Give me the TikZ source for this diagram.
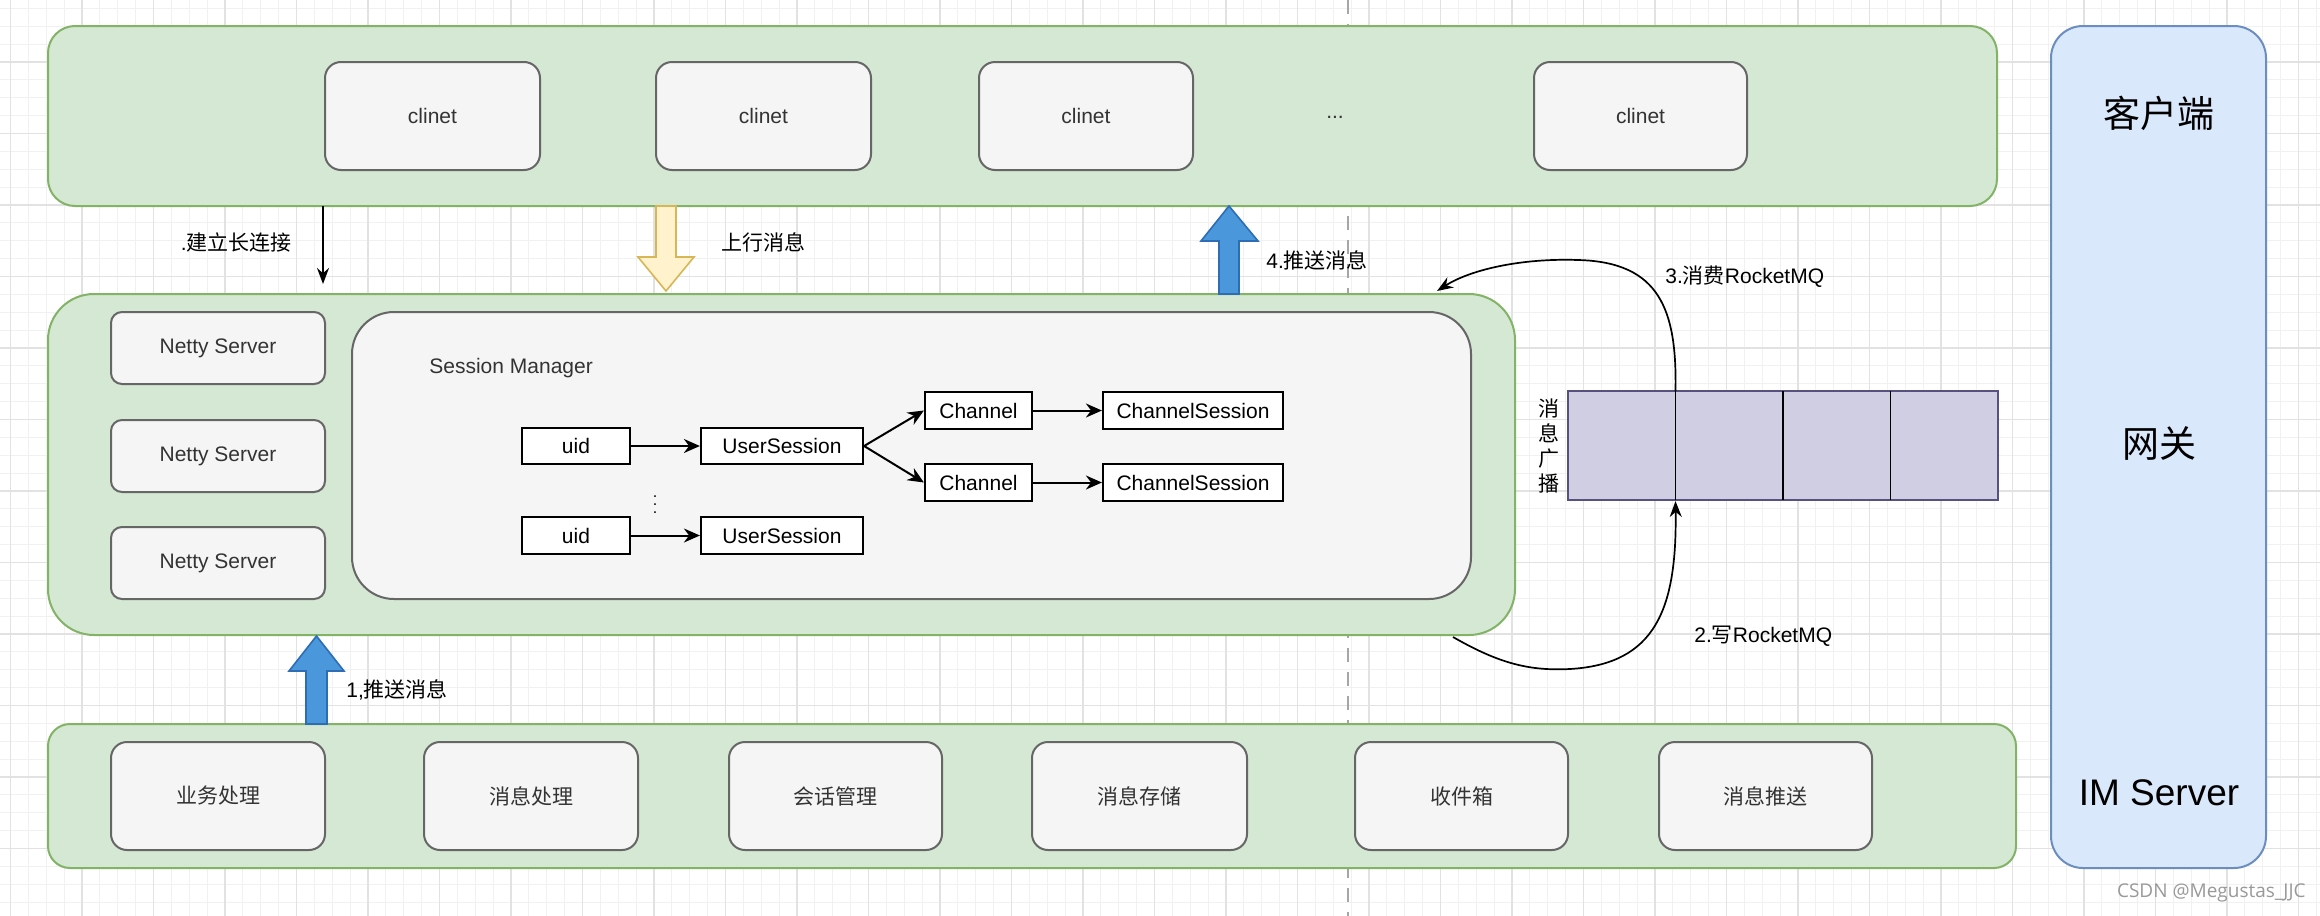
\documentclass[tikz,border=0pt]{standalone}
\usepackage{fontspec}
\setmainfont{Liberation Sans}
\newfontfamily\cjk{Noto Sans CJK SC}
\newfontfamily\wmfont{Open Sans}
\usetikzlibrary{arrows.meta,fit,calc}
\definecolor{gfill}{HTML}{D5E8D4}
\definecolor{gline}{HTML}{82B366}
\definecolor{bfill}{HTML}{DAE8FC}
\definecolor{bline}{HTML}{6C8EBF}
\definecolor{sfill}{HTML}{F5F5F5}
\definecolor{sline}{HTML}{666666}
\definecolor{qfill}{HTML}{D0CEE2}
\definecolor{qline}{HTML}{56517E}
\definecolor{yfill}{HTML}{FFF2CC}
\definecolor{yline}{HTML}{D6B656}
\definecolor{afill}{HTML}{4A97DB}
\definecolor{aline}{HTML}{2E6DB3}
\definecolor{txt}{HTML}{333333}
\definecolor{gminor}{HTML}{F1F1F1}
\definecolor{gmajor}{HTML}{E2E2E2}
\newcommand{\nfs}{\fontsize{10.5}{12.6}\selectfont}
\newcommand{\bfs}{\fontsize{18.5}{22}\selectfont}
\begin{document}
\begin{tikzpicture}[x=0.5pt,y=-0.5pt,
  greenbox/.style={draw=gline,fill=gfill,line width=1pt,inner sep=0pt},
  graybox/.style={draw=sline,fill=sfill,line width=1pt,inner sep=0pt,rounded corners=#1},
  graybox/.default=8pt,
  blkbox/.style={draw=black,fill=white,line width=1.1pt,inner sep=0pt},
  txtc/.style={label={[inner sep=0pt,text=txt,font=\nfs]center:#1}},
  txtk/.style={label={[inner sep=0pt,text=black,font=\nfs]center:#1}},
  lbl/.style={font=\nfs,inner sep=0pt,text=black},
  arr/.style={draw=black,line width=1pt,-{Stealth[length=8pt,width=7pt]}},
  thinarr/.style={draw=black,line width=0.85pt,-{Stealth[length=8pt,width=6pt]}},
  blockblue/.style={draw=aline,fill=afill,line width=0.8pt,line join=miter},
  blockyellow/.style={draw=yline,fill=yfill,line width=0.8pt,line join=miter},
]
\useasboundingbox (0,0) rectangle (2320,916);
\fill[white] (0,0) rectangle (2320,916);
% grid
\foreach \xx in {10.5,28.375,...,2320} \draw[gminor,line width=0.6pt] (\xx,0) -- (\xx,916);
\foreach \yy in {8.375,26.25,...,916} \draw[gminor,line width=0.6pt] (0,\yy) -- (2320,\yy);
\foreach \xx in {10.5,82,...,2320} \draw[gmajor,line width=0.7pt] (\xx,0) -- (\xx,916);
\foreach \yy in {62,133.5,...,916} \draw[gmajor,line width=0.7pt] (0,\yy) -- (2320,\yy);
% page break line
\draw[color=black!35,line width=0.7pt,dash pattern=on 7pt off 5pt] (1348,0) -- (1348,916);

% top layer: clients
\node[greenbox,rounded corners=13.5pt,fit={(48,26)(1997,206)}] (top) {};
\node[graybox,txtc=clinet,fit={(325,62)(540,170)}] (c1) {};
\node[graybox,txtc=clinet,fit={(656,62)(871,170)}] (c2) {};
\node[graybox,txtc=clinet,fit={(979,62)(1193,170)}] (c3) {};
\node[lbl,text=txt] (dots) at (1335,117) {...};
\node[graybox,txtc=clinet,fit={(1534,62)(1747,170)}] (c5) {};

% right column
\node[draw=bline,fill=bfill,line width=1pt,rounded corners=16pt,inner sep=0pt,fit={(2051,26)(2266,868)}] (col) {};
\node[font=\bfs\cjk,inner sep=0pt] (kh) at (2159,113) {客户端};
\node[font=\bfs\cjk,inner sep=0pt] (wg) at (2159,443) {网关};
\node[font=\bfs,inner sep=0pt] (ims) at (2159,793) {IM Server};

% middle layer: gateway
\node[greenbox,rounded corners=23pt,fit={(48,294)(1515,635)}] (mid) {};
\node[graybox=5.5pt,txtc={Netty Server},fit={(111,312)(325,384)}] (n1) {};
\node[graybox=5.5pt,txtc={Netty Server},fit={(111,420)(325,492)}] (n2) {};
\node[graybox=5.5pt,txtc={Netty Server},fit={(111,527)(325,599)}] (n3) {};
\node[graybox=21pt,fit={(352,312)(1471,599)}] (sm) {};
\node[lbl,text=txt,anchor=west] (smlabel) at (429,368) {Session Manager};

\node[blkbox,txtk=uid,fit={(522,428)(630,464)}] (uid1) {};
\node[blkbox,txtk=UserSession,fit={(701,428)(863,464)}] (us1) {};
\node[blkbox,txtk=Channel,fit={(925,392)(1032,429)}] (ch1) {};
\node[blkbox,txtk=ChannelSession,fit={(1103,392)(1283,429)}] (cs1) {};
\node[blkbox,txtk=Channel,fit={(925,464)(1032,501)}] (ch2) {};
\node[blkbox,txtk=ChannelSession,fit={(1103,464)(1283,501)}] (cs2) {};
\node[blkbox,txtk=uid,fit={(522,517)(630,554)}] (uid2) {};
\node[blkbox,txtk=UserSession,fit={(701,517)(863,554)}] (us2) {};
\node[inner sep=0pt,font=\fontsize{8}{8}\selectfont] (vd) at (655,499) {$\vdots$};

\draw[arr] (uid1.east) -- (us1.west);
\draw[arr] (us1.east) -- (ch1.west);
\draw[arr] (us1.east) -- (ch2.west);
\draw[arr] (ch1.east) -- (cs1.west);
\draw[arr] (ch2.east) -- (cs2.west);
\draw[arr] (uid2.east) -- (us2.west);

% queue
\node[draw=qline,fill=qfill,line width=1pt,inner sep=0pt,fit={(1568,391)(1998,500)}] (q) {};
\draw[black,line width=0.8pt] (1783,391) -- (1783,500);
\draw[black,line width=0.8pt] (1890.5,391) -- (1890.5,500);
\draw[black,line width=0.8pt] (1675.5,391) -- (1675.5,500);
\node[font=\fontsize{10.5}{12.5}\selectfont\cjk,align=center,inner sep=0pt] (qlbl) at (1549,446) {消\\息\\广\\播};

% bottom layer: IM server
\node[greenbox,rounded corners=11pt,fit={(48,724)(2016,868)}] (bot) {};
\node[graybox,txtc={{\cjk 业务处理}},fit={(111,742)(325,850)}] (f1) {};
\node[graybox,txtc={{\cjk 消息处理}},fit={(424,742)(638,850)}] (f2) {};
\node[graybox,txtc={{\cjk 会话管理}},fit={(729,742)(942,850)}] (f3) {};
\node[graybox,txtc={{\cjk 消息存储}},fit={(1032,742)(1247,850)}] (f4) {};
\node[graybox,txtc={{\cjk 收件箱}},fit={(1355,742)(1568,850)}] (f5) {};
\node[graybox,txtc={{\cjk 消息推送}},fit={(1659,742)(1872,850)}] (f6) {};

% connection arrow
\coordinate (a1s) at (323,206);
\coordinate (a1e) at (323,284);
\draw[thinarr] (a1s) -- (a1e);
\node[lbl,anchor=east] (a1l) at (292,242) {.{\cjk 建立长连接}};

% upstream (yellow)
\draw[blockyellow] (656,206) -- (676,206) -- (676,257) -- (694,257) -- (666,291) -- (638,257) -- (656,257) -- cycle;
\node[lbl,anchor=west,font=\nfs\cjk] (uplbl) at (721,242) {上行消息};

% push 4 (blue)
\draw[blockblue] (1219,294) -- (1219,241) -- (1201,241) -- (1229,206) -- (1258,241) -- (1239,241) -- (1239,294) -- cycle;
\node[lbl,anchor=west] (p4l) at (1266,260) {4.{\cjk 推送消息}};

% push 1 (blue)
\draw[blockblue] (306,724) -- (306,671) -- (289,671) -- (316.5,636) -- (344,671) -- (327,671) -- (327,724) -- cycle;
\node[lbl,anchor=west] (p1l) at (346,690) {1,{\cjk 推送消息}};

% RocketMQ curves
\coordinate (c2s) at (1453,637);
\coordinate (qin) at (1675.5,501);
\coordinate (qout) at (1675.5,391);
\coordinate (c3e) at (1437,291);
\draw[thinarr] (c2s) .. controls (1500,664) and (1530,671) .. (1570,669) .. controls (1655,664) and (1677,610) .. (qin);
\draw[thinarr] (qout) .. controls (1677,310) and (1660,262) .. (1578,260) .. controls (1520,258) and (1470,270) .. (c3e);
\node[lbl,anchor=west] (l3) at (1665,277) {3.{\cjk 消费}RocketMQ};
\node[lbl,anchor=west] (l2) at (1694,636) {2.{\cjk 写}RocketMQ};

% watermark
\node[anchor=east,inner sep=0pt,text=black!40,font=\fontsize{9.5}{11}\selectfont\wmfont] (wm) at (2306,893) {CSDN @Megustas\_JJC};
\end{tikzpicture}
\end{document}
